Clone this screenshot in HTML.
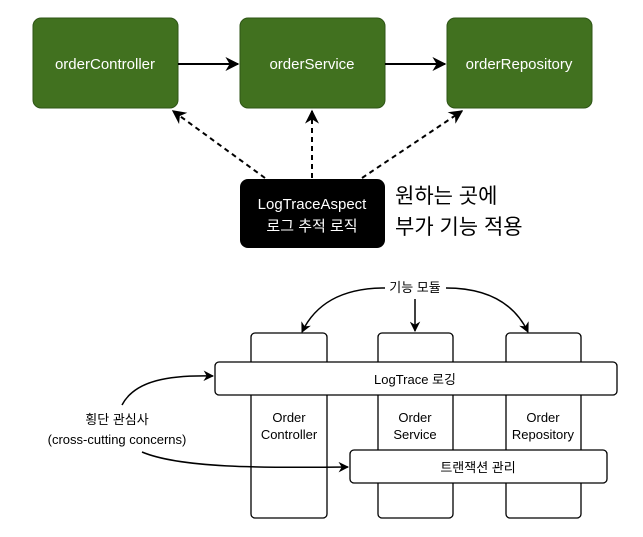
<!DOCTYPE html>
<html><head><meta charset="utf-8"><style>
body{margin:0;background:#fff;}
svg{display:block;font-family:"Liberation Sans","Noto Sans CJK KR",sans-serif;}
</style></head><body>
<svg width="643" height="537" viewBox="0 0 643 537" xmlns="http://www.w3.org/2000/svg">
<defs>
<marker id="a" viewBox="0 0 10 10" refX="9" refY="5" markerWidth="7" markerHeight="7" orient="auto"><path d="M0,0 L10,5 L0,10 L3,5 z" fill="#000"/></marker>
</defs>
<g fill="#41711f" stroke="#2e5516" stroke-width="1">
<rect x="33" y="18" width="145" height="90" rx="8"/>
<rect x="240" y="18" width="145" height="90" rx="8"/>
<rect x="447" y="18" width="145" height="90" rx="8"/>
</g>
<g fill="#fff" font-size="15" text-anchor="middle">
<text x="105" y="69">orderController</text>
<text x="312" y="69">orderService</text>
<text x="519" y="69">orderRepository</text>
</g>
<g stroke="#000" stroke-width="2" fill="none">
<line x1="178" y1="64" x2="238" y2="64" marker-end="url(#a)"/>
<line x1="385" y1="64" x2="445" y2="64" marker-end="url(#a)"/>
<g stroke-dasharray="5,4">
<line x1="265" y1="178" x2="173" y2="111" marker-end="url(#a)"/>
<line x1="312" y1="178" x2="312" y2="111" marker-end="url(#a)"/>
<line x1="362" y1="178" x2="462" y2="111" marker-end="url(#a)"/>
</g>
</g>
<rect x="240" y="179" width="145" height="69" rx="8" fill="#000"/>
<g fill="#fff" font-size="15" text-anchor="middle">
<text x="312" y="209">LogTraceAspect</text>
<text x="312" y="231">로그 추적 로직</text>
</g>
<g font-size="21" fill="#000">
<text x="395" y="203">원하는 곳에</text>
<text x="395" y="234">부가 기능 적용</text>
</g>
<g fill="#fff" stroke="#000" stroke-width="1.3">
<rect x="251" y="333" width="76" height="185" rx="4"/>
<rect x="378" y="333" width="75" height="185" rx="4"/>
<rect x="506" y="333" width="75" height="185" rx="4"/>
<rect x="215" y="362" width="402" height="33" rx="4"/>
<rect x="350" y="450" width="257" height="33" rx="4"/>
</g>
<g font-size="13" text-anchor="middle" fill="#000">
<text x="415" y="384">LogTrace 로깅</text>
<text x="478" y="472">트랜잭션 관리</text>
<text x="289" y="422">Order</text><text x="289" y="439">Controller</text>
<text x="415" y="422">Order</text><text x="415" y="439">Service</text>
<text x="543" y="422">Order</text><text x="543" y="439">Repository</text>
<text x="415" y="292">기능 모듈</text>
<text x="117" y="424">횡단 관심사</text>
<text x="117" y="444">(cross-cutting concerns)</text>
</g>
<g stroke="#000" stroke-width="1.5" fill="none">
<path d="M385,288 C340,288 315,305 302,332" marker-end="url(#a)"/>
<line x1="415" y1="299" x2="415" y2="331" marker-end="url(#a)"/>
<path d="M446,288 C490,288 515,305 528,332" marker-end="url(#a)"/>
<path d="M122,405 C135,380 170,375 213,376" marker-end="url(#a)"/>
<path d="M142,452 C180,468 260,468 348,467" marker-end="url(#a)"/>
</g>
</svg>
</body></html>
